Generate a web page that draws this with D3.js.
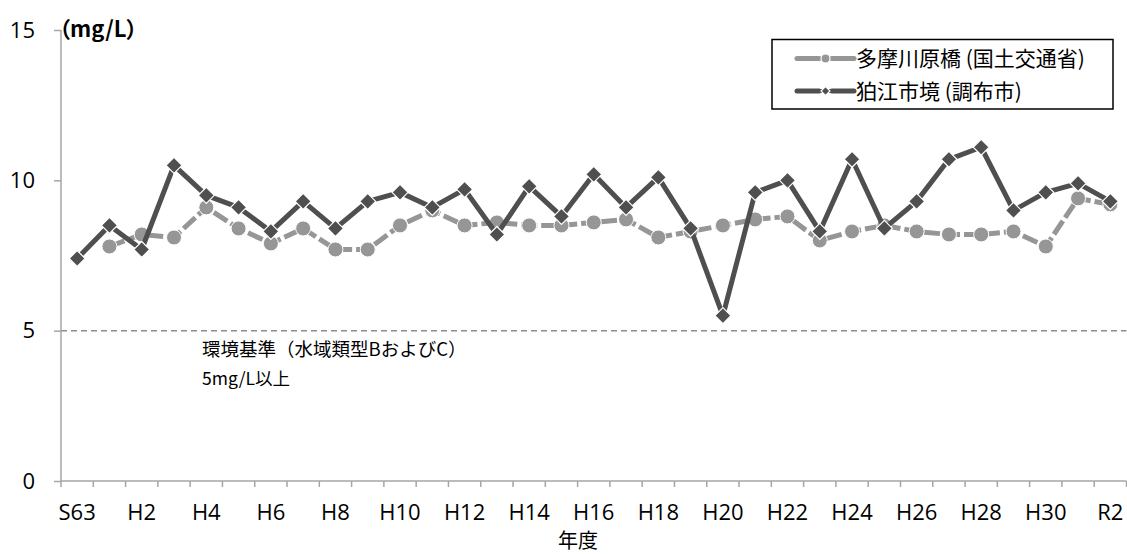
<!DOCTYPE html>
<html>
<head>
<meta charset="utf-8">
<script src="https://cdn.jsdelivr.net/npm/d3@7/dist/d3.min.js"></script>
<style>
  html, body { margin: 0; padding: 0; background: #fff; }
  svg { display: block; }
  .lat { font-family: "Open Sans", "Liberation Sans", sans-serif; }
  .jp { font-family: "Noto Sans CJK JP", sans-serif; }
  .palt { font-feature-settings: "palt"; }
</style>
</head>
<body>
<svg id="chart" width="1127" height="554"></svg>
<script>
// Fiscal years S63 .. R2
const years = ["S63", "H1", "H2", "H3", "H4", "H5", "H6", "H7", "H8", "H9", "H10",
  "H11", "H12", "H13", "H14", "H15", "H16", "H17", "H18", "H19", "H20",
  "H21", "H22", "H23", "H24", "H25", "H26", "H27", "H28", "H29", "H30", "R1", "R2"];

// Dissolved oxygen (mg/L)
const tamagawaHara = [null, 7.8, 8.2, 8.1, 9.1, 8.4, 7.9, 8.4, 7.7, 7.7, 8.5,
  9.0, 8.5, 8.6, 8.5, 8.5, 8.6, 8.7, 8.1, 8.3, 8.5,
  8.7, 8.8, 8.0, 8.3, 8.5, 8.3, 8.2, 8.2, 8.3, 7.8, 9.4, 9.2];
const komaeBorder = [7.4, 8.5, 7.7, 10.5, 9.5, 9.1, 8.3, 9.3, 8.4, 9.3, 9.6,
  9.1, 9.7, 8.2, 9.8, 8.8, 10.2, 9.1, 10.1, 8.4, 5.5,
  9.6, 10.0, 8.3, 10.7, 8.4, 9.3, 10.7, 11.1, 9.0, 9.6, 9.9, 9.3];

const seriesNames = ["多摩川原橋 (国土交通省)", "狛江市境 (調布市)"];
const yTicks = [0, 5, 10, 15];
const xTickLabels = ["S63", "H2", "H4", "H6", "H8", "H10", "H12", "H14", "H16",
  "H18", "H20", "H22", "H24", "H26", "H28", "H30", "R2"];
const standardValue = 5;
const standardLines = ["環境基準（水域類型BおよびC）", "5mg/L以上"];

const svg = d3.select("#chart");
const plotLeft = 61, plotRight = 1126.5, plotTop = 30, plotBottom = 481;

const x = d3.scaleBand().domain(years).range([plotLeft, plotRight]).paddingInner(0).paddingOuter(0);
const cx = d => x(d) + x.bandwidth() / 2;
const y = d3.scaleLinear().domain([0, 15]).range([plotBottom, plotTop]);

const axisColor = "#a6a6a6";
const grayColor = "#969696";
const darkColor = "#4f4f4f";

// Environmental standard line
svg.append("line")
  .attr("x1", plotLeft).attr("x2", plotRight)
  .attr("y1", y(standardValue)).attr("y2", y(standardValue))
  .attr("stroke", "#8c8c8c").attr("stroke-width", 1.5)
  .attr("stroke-dasharray", "6,4");

// Y axis
const yAxis = svg.append("g")
  .attr("transform", `translate(${plotLeft},0)`)
  .call(d3.axisLeft(y).tickValues(yTicks).tickSize(7).tickPadding(19).tickFormat(d3.format("d")));
yAxis.select(".domain").attr("stroke", axisColor).attr("stroke-width", 1.5)
  .attr("d", `M0,${plotBottom}V${plotTop}`);
yAxis.selectAll(".tick line").attr("stroke", axisColor).attr("stroke-width", 1.5);
yAxis.selectAll(".tick text").attr("class", "lat").attr("font-size", 22).attr("fill", "#000");

// X axis: boundary ticks
const xAxis = svg.append("g").attr("transform", `translate(0,${plotBottom})`);
xAxis.append("line").attr("x1", plotLeft).attr("x2", plotRight)
  .attr("stroke", axisColor).attr("stroke-width", 1.5);
const bounds = years.map(d => x(d)).concat([x(years[years.length - 1]) + x.bandwidth()]);
xAxis.selectAll("line.bt").data(bounds).join("line").attr("class", "bt")
  .attr("x1", d => d).attr("x2", d => d).attr("y1", 0).attr("y2", 6)
  .attr("stroke", axisColor).attr("stroke-width", 1.5);
xAxis.selectAll("text.xl").data(xTickLabels).join("text").attr("class", "xl lat")
  .attr("x", d => cx(d)).attr("y", 39)
  .attr("text-anchor", "middle").attr("font-size", 22).attr("fill", "#000")
  .text(d => d);

svg.append("text").attr("class", "jp")
  .attr("x", 578).attr("y", 548).attr("text-anchor", "middle")
  .attr("font-size", 20).attr("fill", "#000").text("年度");

// Unit label
svg.append("text").attr("class", "jp palt")
  .attr("x", 59).attr("y", 37).attr("font-size", 22).attr("font-weight", "bold")
  .attr("fill", "#000").text("（mg/L）");

// Standard annotation
svg.append("text").attr("class", "jp")
  .attr("x", 202).attr("y", 356).attr("font-size", 18.5).attr("fill", "#000")
  .text(standardLines[0]);
svg.append("text").attr("class", "jp")
  .attr("x", 202).attr("y", 385).attr("font-size", 17.5).attr("fill", "#000")
  .text(standardLines[1]);

// Series lines
const line = d3.line()
  .defined(d => d.v != null)
  .x(d => cx(d.k)).y(d => y(d.v));

const grayData = years.map((k, i) => ({ k, v: tamagawaHara[i] }));
const darkData = years.map((k, i) => ({ k, v: komaeBorder[i] }));

svg.append("path").datum(grayData).attr("d", line)
  .attr("fill", "none").attr("stroke", grayColor).attr("stroke-width", 5)
  .attr("stroke-dasharray", "16,4").attr("stroke-linejoin", "round");
svg.selectAll("circle.g").data(grayData.filter(d => d.v != null)).join("circle")
  .attr("class", "g").attr("cx", d => cx(d.k)).attr("cy", d => y(d.v)).attr("r", 7.5)
  .attr("fill", grayColor).attr("stroke", "#fff").attr("stroke-width", 1);

svg.append("path").datum(darkData).attr("d", line)
  .attr("fill", "none").attr("stroke", darkColor).attr("stroke-width", 5)
  .attr("stroke-linejoin", "round");
const diamond = s => `M0,${-s}L${s},0L0,${s}L${-s},0Z`;
svg.selectAll("path.d").data(darkData).join("path")
  .attr("class", "d").attr("transform", d => `translate(${cx(d.k)},${y(d.v)})`)
  .attr("d", diamond(8))
  .attr("fill", darkColor).attr("stroke", "#fff").attr("stroke-width", 1.2);

// Legend
const lg = svg.append("g");
lg.append("rect").attr("x", 772).attr("y", 39.5).attr("width", 341).attr("height", 69.5)
  .attr("fill", "#fff").attr("stroke", "#000").attr("stroke-width", 1.5);
const rows = [
  { name: seriesNames[0], color: grayColor, cy: 58.5, marker: "circle" },
  { name: seriesNames[1], color: darkColor, cy: 91, marker: "diamond" }
];
rows.forEach(r => {
  lg.append("line").attr("x1", 797).attr("x2", 819).attr("y1", r.cy).attr("y2", r.cy)
    .attr("stroke", r.color).attr("stroke-width", 5).attr("stroke-linecap", "round");
  lg.append("line").attr("x1", 832).attr("x2", 854).attr("y1", r.cy).attr("y2", r.cy)
    .attr("stroke", r.color).attr("stroke-width", 5).attr("stroke-linecap", "round");
  lg.append("line").attr("x1", 819).attr("x2", 832).attr("y1", r.cy).attr("y2", r.cy)
    .attr("stroke", r.color).attr("stroke-width", 4);
  if (r.marker === "circle") {
    lg.append("circle").attr("cx", 825.5).attr("cy", r.cy).attr("r", 4.5)
      .attr("fill", r.color).attr("stroke", "#fff").attr("stroke-width", 1.2);
  } else {
    lg.append("path").attr("transform", `translate(825.5,${r.cy})`).attr("d", diamond(4.5))
      .attr("fill", r.color).attr("stroke", "#fff").attr("stroke-width", 1.2);
  }
  lg.append("text").attr("class", "jp").attr("x", 856).attr("y", r.cy + 7.5)
    .attr("font-size", 21).attr("fill", "#000").text(r.name);
});
</script>
</body>
</html>
